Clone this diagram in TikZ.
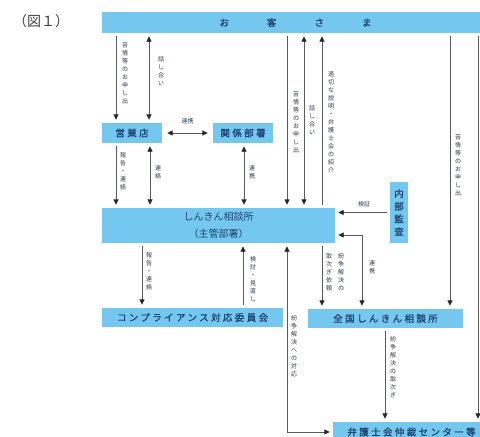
\documentclass[tikz,border=0pt]{standalone}
\usepackage{fontspec}
\newfontfamily\cjk{Noto Sans CJK JP}
\newfontfamily\cjkb[FakeBold=1.2]{Noto Sans CJK JP}
\newfontfamily\cjksp[LetterSpace=25,FakeBold=1.2]{Noto Sans CJK JP}
\usetikzlibrary{arrows.meta,calc}
\definecolor{boxblue}{HTML}{74C8EF}
\definecolor{boxtext}{HTML}{1F4470}
\definecolor{lbl}{HTML}{2E3A50}
\definecolor{ln}{HTML}{5A5A5A}
\makeatletter
\def\vs@loop#1{\ifx#1\@nil\else\hbox to 1.2em{\hss\vrule width0pt height1.05em depth0.28em\relax#1\hss}\expandafter\vs@loop\fi}
\newcommand\vstack[1]{\vbox{\offinterlineskip\vs@loop#1\@nil}}
\makeatother
\tikzset{
  box/.style={fill=boxblue, inner sep=0pt, text=boxtext, font=\cjksp\fontsize{9.5}{11}\selectfont},
  lab/.style={text=lbl, font=\cjk\fontsize{6}{7}\selectfont, inner sep=0pt},
  conn/.style={draw=ln, line width=0.9pt, shorten >=3pt, shorten <=3pt},
}
\begin{document}
\begin{tikzpicture}[x=1pt, y=-1pt, >={Triangle[width=5pt,length=5.5pt,color=black!85]}]
\useasboundingbox (0,0) rectangle (480,437);
\node[text=black!75, font=\cjk\fontsize{14}{16}\selectfont, inner sep=0pt] (title) at (41,21) {（図１）};
% boxes
\node[box, font=\cjkb\fontsize{9.5}{11}\selectfont, minimum width=387pt, minimum height=21pt] (bar) at (295.5,22.5) {お\hspace{38pt}客\hspace{38pt}さ\hspace{38pt}ま};
\node[box, minimum width=60pt, minimum height=20pt] (eigyo) at (132,133) {営業店};
\node[box, minimum width=60pt, minimum height=20pt] (kankei) at (243,133) {関係部署};
\node[box, minimum width=233pt, minimum height=35pt, align=center, font=\cjk\fontsize{10}{17}\selectfont] (soudan) at (218.5,225.5) {しんきん相談所\\（主管部署）};
\node[box, minimum width=18pt, minimum height=61pt, font=\cjkb\fontsize{9.5}{11}\selectfont] (naibu) at (399,212.5) {\vstack{内部監査}};
\node[box, minimum width=181pt, minimum height=19pt] (comp) at (192.5,317.5) {コンプライアンス対応委員会};
\node[box, minimum width=155pt, minimum height=19pt] (zenkoku) at (385.5,318.5) {全国しんきん相談所};
\node[box, minimum width=157pt, minimum height=20pt] (bengo) at (411.5,432) {弁護士会仲裁センター等};
% x positions
\coordinate (x116) at (116,0);
\coordinate (x142) at (142,0);
\coordinate (x149) at (149,0);
\coordinate (x150) at (150,0);
\coordinate (x243) at (243,0);
\coordinate (x244) at (244,0);
\coordinate (x287) at (287,0);
\coordinate (x304) at (304,0);
\coordinate (x322) at (322,0);
\coordinate (x362) at (362,0);
\coordinate (x385) at (385,0);
\coordinate (x450) at (450,0);
\coordinate (x478) at (478,0);
\coordinate (y235) at (0,235);
% connectors
\draw[conn,->] (x116 |- bar.south) -- (x116 |- eigyo.north);
\draw[conn,<->] (x149 |- bar.south) -- (x149 |- eigyo.north);
\draw[conn,<->, shorten >=5pt, shorten <=5pt] (eigyo) -- (kankei);
\draw[conn,->] (x116 |- eigyo.south) -- (x116 |- soudan.north);
\draw[conn,<->] (x150 |- eigyo.south) -- (x150 |- soudan.north);
\draw[conn,<->] (x244 |- kankei.south) -- (x244 |- soudan.north);
\draw[conn,->] (x287 |- bar.south) -- (x287 |- soudan.north);
\draw[conn,<->] (x304 |- bar.south) -- (x304 |- soudan.north);
\draw[conn,->] (x322 |- soudan.north) -- (x322 |- bar.south);
\draw[conn,->] (x450 |- bar.south) -- (x450 |- zenkoku.north);
\draw[conn,->] (x478 |- bar.south) -- (x478 |- bengo.north);
\draw[conn,->] (naibu.west) -- (naibu.west -| soudan.east);
\draw[conn,<->] (soudan.east |- y235) -| (x362 |- zenkoku.north);
\draw[conn,->] (x322 |- soudan.south) -- (x322 |- zenkoku.north);
\draw[conn,->] (x142 |- soudan.south) -- (x142 |- comp.north);
\draw[conn,->] (x243 |- comp.north) -- (x243 |- soudan.south);
\draw[conn,<->] (x287 |- soudan.south) |- (bengo.west);
\draw[conn,->] (x385 |- zenkoku.south) -- (x385 |- bengo.north);
% labels
\node[lab] (l1) at (125,73) {\vstack{苦情等のお申し出}};
\node[lab] (l2) at (161,71) {\vstack{話し合い}};
\node[lab] (l3) at (187.5,121) {連携};
\node[lab] (l4) at (123,171) {\vstack{報告・連絡}};
\node[lab] (l5) at (158,172) {\vstack{連絡}};
\node[lab] (l6) at (252,172) {\vstack{連携}};
\node[lab] (l7) at (296,122) {\vstack{苦情等のお申し出}};
\node[lab] (l8) at (312,120) {\vstack{話し合い}};
\node[lab] (l9) at (331,122) {\vstack{適切な説明・弁護士会の紹介}};
\node[lab] (l10) at (458,165) {\vstack{苦情等のお申し出}};
\node[lab] (l11) at (364,204) {検証};
\node[lab] (l12) at (372,267) {\vstack{連携}};
\node[lab] (l13a) at (341,272) {\vstack{紛争解決の}};
\node[lab] (l13b) at (329,272) {\vstack{取次ぎ依頼}};
\node[lab] (l14) at (149,271) {\vstack{報告・連絡}};
\node[lab] (l15) at (253,279) {\vstack{検討・見直し}};
\node[lab] (l16) at (294,346) {\vstack{紛争解決への対応}};
\node[lab] (l17) at (393,367) {\vstack{紛争解決の取次ぎ}};
\end{tikzpicture}
\end{document}
